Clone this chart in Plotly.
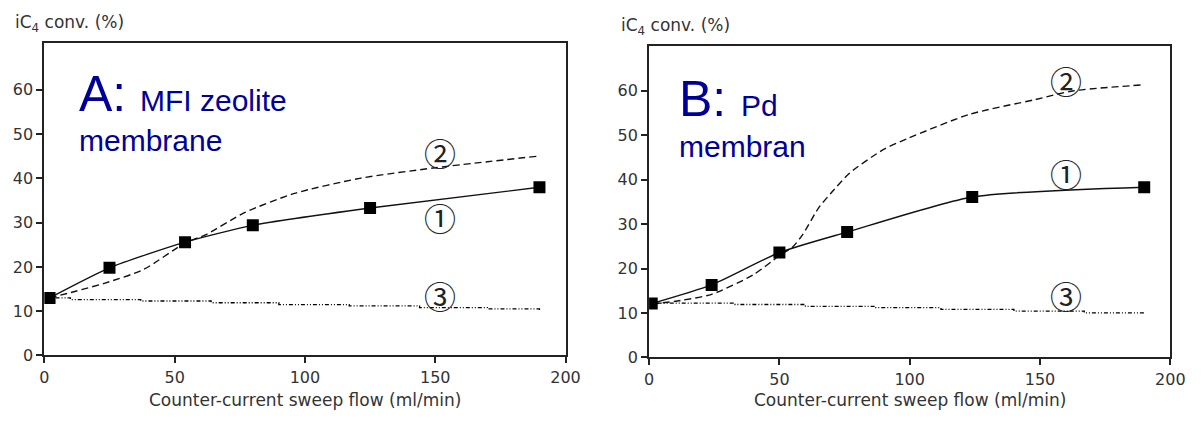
import plotly.graph_objects as go

# ---------------- data ----------------
# Panel A: MFI zeolite membrane
a_exp_x = [2, 25, 54, 80, 125, 190]
a_exp_y = [13.0, 19.8, 25.6, 29.4, 33.3, 38.0]
a_dash_x = [2, 12, 23, 38, 54, 62, 77, 96, 121, 150, 189]
a_dash_y = [13.0, 14.5, 16.3, 19.4, 25.4, 27.3, 32.3, 36.6, 40.0, 42.4, 45.0]
a_dot_x = [2, 10, 37, 64, 90, 117, 144, 170, 190]
a_dot_y = [13.0, 12.6, 12.3, 11.9, 11.5, 11.2, 10.8, 10.5, 10.2]

# Panel B: Pd membrane
b_exp_x = [1, 24, 50, 76, 124, 190]
b_exp_y = [12.1, 16.3, 23.6, 28.2, 36.1, 38.3]
b_dash_x = [1, 12, 24, 40, 50, 55, 59, 65, 70, 77, 90, 99, 123, 148, 163, 189]
b_dash_y = [12.0, 12.8, 14.2, 18.6, 22.9, 24.8, 27.7, 33.6, 37.1, 41.5, 46.8, 49.2, 54.7, 58.0, 60.0, 61.3]
b_dot_x = [1, 33, 60, 87, 112, 140, 167, 190]
b_dot_y = [12.2, 11.9, 11.5, 11.2, 10.8, 10.4, 10.0, 9.7]

x_ticks = [0, 50, 100, 150, 200]
y_ticks = [0, 10, 20, 30, 40, 50, 60]
curve_labels = ["①", "②", "③"]
a_label_pos = [(152, 31.3), (152, 46.0), (152, 13.6)]
b_label_pos = [(160, 41.6), (160, 62.4), (160, 14.0)]

y_title = "iC<sub>4</sub> conv. (%)"
x_title = "Counter-current sweep flow (ml/min)"

W, H = 1202, 425
FONT = "Liberation Sans, Arial, sans-serif"
TFONT = "DejaVu Sans, sans-serif"
BLUE = "#000099"

fig = go.Figure()

def add_panel(xa, ya, ex, ey, dx, dy, px, py):
    fig.add_trace(go.Scatter(x=dx, y=dy, mode="lines", xaxis=xa, yaxis=ya,
                             line=dict(color="#111", width=1.4, dash="7px,4px", shape="spline", smoothing=0.7),
                             showlegend=False, hoverinfo="skip"))
    fig.add_trace(go.Scatter(x=px, y=py, mode="lines", xaxis=xa, yaxis=ya,
                             line=dict(color="#000", width=1.3, dash="1px,2px,1px,2px,4px,2px", shape="hv"),
                             showlegend=False, hoverinfo="skip"))
    fig.add_trace(go.Scatter(x=ex, y=ey, mode="lines+markers", xaxis=xa, yaxis=ya,
                             line=dict(color="#111", width=1.4, shape="spline", smoothing=0.6),
                             marker=dict(symbol="square", size=12, color="#000"),
                             showlegend=False, hoverinfo="skip"))

add_panel("x", "y", a_exp_x, a_exp_y, a_dash_x, a_dash_y, a_dot_x, a_dot_y)
add_panel("x2", "y2", b_exp_x, b_exp_y, b_dash_x, b_dash_y, b_dot_x, b_dot_y)

axis_common = dict(showgrid=False, zeroline=False, showline=True, linecolor="#222", linewidth=2,
                   mirror=True, ticks="outside", ticklen=6, tickwidth=1.5, tickcolor="#222",
                   tickfont=dict(family=TFONT, size=16, color="#333"))

fig.update_layout(
    width=W, height=H,
    margin=dict(l=0, r=0, t=0, b=0),
    paper_bgcolor="white", plot_bgcolor="white",
    xaxis=dict(domain=[40 / W, 570 / W], range=[0, 200], tickvals=x_ticks, anchor="y", **axis_common),
    yaxis=dict(domain=[1 - 364 / H, 1 - 44 / H], range=[0, 70.6], tickvals=y_ticks, anchor="x", **axis_common),
    xaxis2=dict(domain=[655 / W, 1185 / W], range=[0, 200], tickvals=x_ticks, anchor="y2", **axis_common),
    yaxis2=dict(domain=[1 - 366 / H, 1 - 47 / H], range=[0, 70.1], tickvals=y_ticks, anchor="x2", **axis_common),
)

ann = []
# axis titles
for xc, yc, txt in [(8, 24, y_title), (624, 27, y_title)]:
    ann.append(dict(x=xc / W, y=1 - yc / H, xref="paper", yref="paper", text=txt, showarrow=False,
                    xanchor="left", yanchor="middle", font=dict(family=TFONT, size=17, color="#333")))
for xc, txt in [(305, x_title), (920, x_title)]:
    ann.append(dict(x=xc / W, y=1 - 410 / H, xref="paper", yref="paper", text=txt, showarrow=False,
                    xanchor="center", yanchor="middle", font=dict(family=TFONT, size=17, color="#333")))

# blue panel captions
def caption(x0, y_big, big, small1, x_small, small2, y2):
    ann.append(dict(x=x0 / W, y=1 - y_big / H, xref="paper", yref="paper", text=big, showarrow=False,
                    xanchor="left", yanchor="middle", font=dict(family=FONT, size=50, color=BLUE)))
    ann.append(dict(x=x_small / W, y=1 - (y_big + 7) / H, xref="paper", yref="paper", text=small1, showarrow=False,
                    xanchor="left", yanchor="middle", font=dict(family=FONT, size=30, color=BLUE)))
    ann.append(dict(x=x0 / W, y=1 - y2 / H, xref="paper", yref="paper", text=small2, showarrow=False,
                    xanchor="left", yanchor="middle", font=dict(family=FONT, size=30, color=BLUE)))

caption(73, 96, "A:", "MFI zeolite", 135, "membrane", 144)
caption(683, 101, "B:", "Pd", 746, "membran", 150)

# circled curve labels
for (xa, ya, pos) in [("x", "y", a_label_pos), ("x2", "y2", b_label_pos)]:
    for lab, (lx, ly) in zip(curve_labels, pos):
        ann.append(dict(x=lx, y=ly, xref=xa, yref=ya, text=lab, showarrow=False,
                        font=dict(family="Noto Sans CJK JP, DejaVu Sans", size=32, color="#222")))

fig.update_layout(annotations=ann)
fig.write_html("out.html")
